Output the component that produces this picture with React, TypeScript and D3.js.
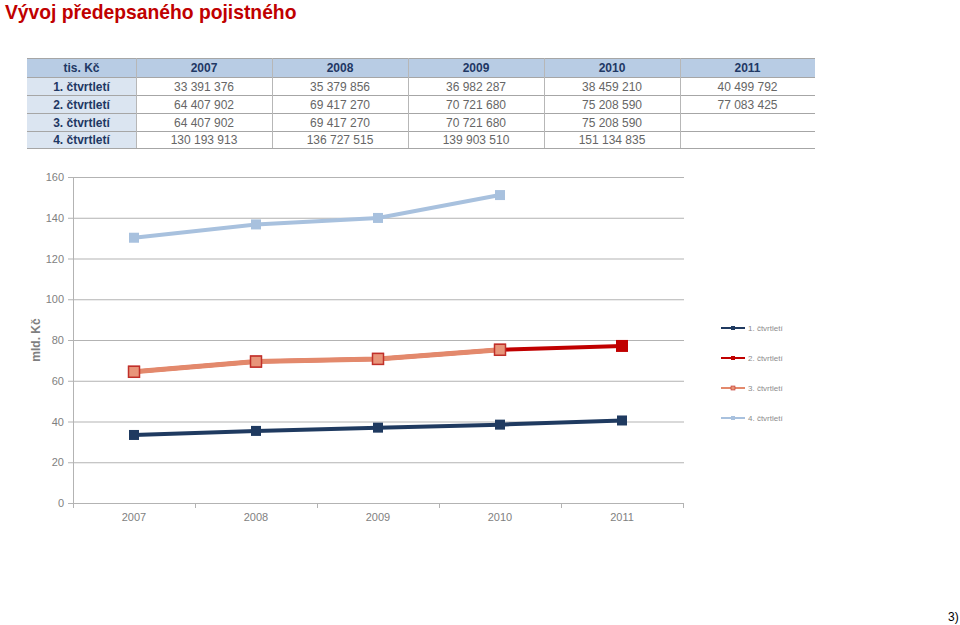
import React from "react";
import * as d3 from "d3";

const years = ["2007", "2008", "2009", "2010", "2011"];
const seriesNames = ["1. čtvrtletí", "2. čtvrtletí", "3. čtvrtletí", "4. čtvrtletí"];
const q1 = [33391376, 35379856, 36982287, 38459210, 40499792];
const q2 = [64407902, 69417270, 70721680, 75208590, 77083425];
const q3 = [64407902, 69417270, 70721680, 75208590, null];
const q4 = [130193913, 136727515, 139903510, 151134835, null];
const yTicks = [0, 20, 40, 60, 80, 100, 120, 140, 160];

const fmt = (v: number | null) =>
  v == null ? "" : d3.format(",")(v).replace(/,/g, " ");

const styles = [
  { line: "#1f3a60", fill: "#1f3a60", stroke: "#1f3a60", size: 10, width: 4 },
  { line: "#c00000", fill: "#c00000", stroke: "#c00000", size: 12, width: 4 },
  { line: "#e3896c", fill: "#e8957a", stroke: "#c0302a", size: 11, width: 5 },
  { line: "#a8c1de", fill: "#a8c1de", stroke: "#a8c1de", size: 10, width: 4 },
];

export default function App() {
  const W = 960, H = 625;
  const all = [q1, q2, q3, q4];
  const x = d3.scaleBand().domain(years).range([73, 683]);
  const y = d3.scaleLinear().domain([0, 160]).range([503, 177]);
  const line = d3
    .line<{ yr: string; v: number | null }>()
    .defined((d) => d.v != null)
    .x((d) => (x(d.yr) as number) + x.bandwidth() / 2)
    .y((d) => y((d.v as number) / 1e6));

  const tX0 = 27, tX1 = 815;
  const colX = [27, 136, 272, 408, 544, 680, 815];
  const rowY = [58, 77, 95, 113, 131, 148];

  const drawOrder = [0, 1, 2, 3];

  return (
    <svg width={W} height={H} style={{ position: "absolute", left: 0, top: 0, background: "#fff" }}
      fontFamily="Liberation Sans, Arial, sans-serif">
      <text x={5} y={19} fontSize={19.3} fontWeight="bold" fill="#c00000">
        Vývoj předepsaného pojistného
      </text>

      {/* table */}
      <rect x={tX0} y={rowY[0]} width={tX1 - tX0} height={rowY[1] - rowY[0]} fill="#b8cce4" />
      {[1, 2, 3, 4].map((r) => (
        <rect key={r} x={colX[0]} y={rowY[r]} width={colX[1] - colX[0]} height={rowY[r + 1] - rowY[r]} fill="#dbe5f1" />
      ))}
      {rowY.map((ry, i) => (
        <line key={"h" + i} x1={tX0} x2={tX1} y1={ry + 0.5} y2={ry + 0.5} stroke="#a6a6a6" strokeWidth={1} />
      ))}
      {colX.slice(1, 6).map((cx, i) => (
        <line key={"v" + i} x1={cx + 0.5} x2={cx + 0.5} y1={rowY[0]} y2={rowY[5]} stroke="#b7b7b7" strokeWidth={1} />
      ))}
      <text x={(colX[0] + colX[1]) / 2} y={rowY[1] - 5} textAnchor="middle" fontSize={12} fontWeight="bold" fill="#1f3864">
        tis. Kč
      </text>
      {years.map((yr, i) => (
        <text key={yr} x={(colX[i + 1] + colX[i + 2]) / 2} y={rowY[1] - 5} textAnchor="middle" fontSize={12} fontWeight="bold" fill="#1f3864">
          {yr}
        </text>
      ))}
      {all.map((s, r) => (
        <g key={"r" + r}>
          <text x={(colX[0] + colX[1]) / 2} y={rowY[r + 2] - 4} textAnchor="middle" fontSize={12} fontWeight="bold" fill="#1f3864">
            {seriesNames[r]}
          </text>
          {s.map((v, i) => (
            <text key={i} x={(colX[i + 1] + colX[i + 2]) / 2} y={rowY[r + 2] - 4} textAnchor="middle" fontSize={12} fill="#666666">
              {fmt(v)}
            </text>
          ))}
        </g>
      ))}

      {/* chart grid */}
      {yTicks.map((t) => (
        <g key={"g" + t}>
          <line x1={73} x2={684} y1={y(t) + 0.5} y2={y(t) + 0.5} stroke="#b3b3b3" strokeWidth={1} />
          <line x1={68} x2={73} y1={y(t) + 0.5} y2={y(t) + 0.5} stroke="#b3b3b3" strokeWidth={1} />
          <text x={64} y={y(t) + 4} textAnchor="end" fontSize={11} fill="#7f7f7f">{t}</text>
        </g>
      ))}
      <line x1={73.5} x2={73.5} y1={177} y2={503} stroke="#b3b3b3" strokeWidth={1} />
      {d3.range(6).map((i) => {
        const bx = 73 + i * x.step();
        return <line key={"t" + i} x1={bx + 0.5} x2={bx + 0.5} y1={503} y2={508} stroke="#b3b3b3" />;
      })}
      {years.map((yr) => (
        <text key={"xl" + yr} x={(x(yr) as number) + x.bandwidth() / 2} y={521} textAnchor="middle" fontSize={11} fill="#7f7f7f">
          {yr}
        </text>
      ))}
      <text transform="translate(40,340) rotate(-90)" textAnchor="middle" fontSize={12} fontWeight="bold" fill="#7f7f7f">
        mld. Kč
      </text>

      {/* series */}
      {drawOrder.map((si) => {
        const s = all[si];
        const st = styles[si];
        const data = s.map((v, i) => ({ yr: years[i], v }));
        return (
          <g key={"s" + si}>
            <path d={line(data) || ""} fill="none" stroke={st.line} strokeWidth={st.width} />
            {data.filter((d) => d.v != null).map((d, i) => {
              const cx = (x(d.yr) as number) + x.bandwidth() / 2;
              const cy = y((d.v as number) / 1e6);
              return (
                <rect key={i} x={cx - st.size / 2} y={cy - st.size / 2} width={st.size} height={st.size}
                  fill={st.fill} stroke={st.stroke} strokeWidth={si === 2 ? 1.5 : 0} />
              );
            })}
          </g>
        );
      })}

      {/* legend */}
      {seriesNames.map((n, i) => {
        const ly = 328 + i * 30;
        const st = styles[i];
        return (
          <g key={"lg" + i}>
            <line x1={721} x2={745} y1={ly} y2={ly} stroke={st.line} strokeWidth={2} />
            <rect x={731} y={ly - 2} width={4} height={4} fill={st.fill} stroke={st.stroke} strokeWidth={i === 2 ? 0.6 : 0} />
            <text x={748} y={ly + 3} fontSize={8} fill="#8c8c8c">{n}</text>
          </g>
        );
      })}

      <text x={948} y={621} fontSize={12} fill="#000">3)</text>
    </svg>
  );
}
